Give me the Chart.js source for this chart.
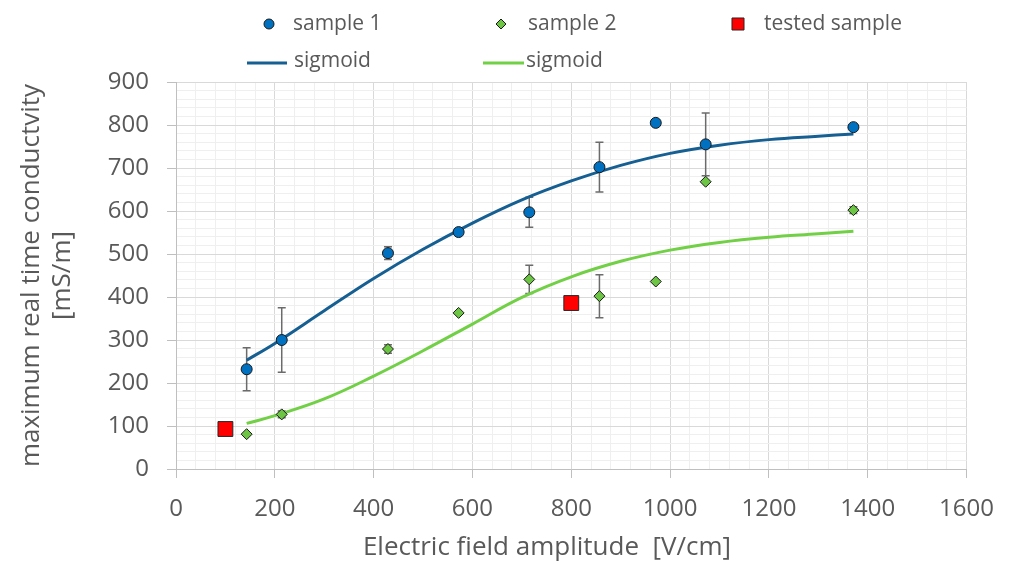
<!DOCTYPE html>
<html><head><meta charset="utf-8">
<script src="https://cdn.jsdelivr.net/npm/chart.js@4.4.0/dist/chart.umd.min.js"></script>
<style>html,body{margin:0;padding:0;background:#fff}</style>
</head><body>
<canvas id="c" width="1011" height="565"></canvas>
<script>
// ---- data ----
const sample1X   = [143, 214, 429, 572, 715, 857, 971, 1072, 1371];
const sample1Y   = [232, 300, 502, 551, 597, 702, 805, 755, 795];
const sample1Err = [50, 75, 15, 4, 35, 58, 0, 73, 5];

const sample2X   = [143, 214, 429, 572, 715, 857, 971, 1072, 1371];
const sample2Y   = [81, 127, 279, 363, 441, 402, 436, 668, 602];
const sample2Err = [0, 8, 10, 0, 33, 50, 0, 0, 8];

const testedX = [100, 800];
const testedY = [93, 386];

const sigmoid1X = [143, 200, 300, 400, 500, 600, 700, 800, 900, 1000, 1100, 1200, 1300, 1371];
const sigmoid1Y = [253, 292, 368, 443, 511, 572, 626, 670, 706, 734, 753, 766, 774, 779];
const sigmoid2X = [143, 200, 300, 400, 500, 600, 700, 800, 900, 1000, 1100, 1200, 1300, 1371];
const sigmoid2Y = [106, 124, 163, 216, 275, 337, 399, 447, 483, 509, 527, 539, 547, 553];

const xTickLabels = [0, 200, 400, 600, 800, 1000, 1200, 1400, 1600];
const yTickLabels = [0, 100, 200, 300, 400, 500, 600, 700, 800, 900];

const seriesNames = ['sample 1', 'sample 2', 'tested sample', 'sigmoid', 'sigmoid'];
const xTitle = 'Electric field amplitude  [V/cm]';
const yTitle = ['maximum real time conductvity', '[mS/m]'];

// ---- helpers ----
const pts = (xs, ys) => xs.map((x, i) => ({x, y: ys[i]}));
const FONT = "'Open Sans', 'Noto Sans', sans-serif";
const TXT = '#595959';
const MAJOR = '#d9d9d9', MINOR = '#efefef';

const errorBars = {
  id: 'errorBars',
  beforeDatasetsDraw(chart) {
    const {ctx, scales: {x, y}} = chart;
    ctx.save();
    ctx.strokeStyle = '#6b6b6b';
    ctx.lineWidth = 1.5;
    chart.data.datasets.forEach(ds => {
      if (!ds.errors) return;
      ds.data.forEach((p, i) => {
        const e = ds.errors[i];
        if (!e) return;
        const px = x.getPixelForValue(p.x);
        const t = y.getPixelForValue(p.y + e), b = y.getPixelForValue(p.y - e);
        ctx.beginPath();
        ctx.moveTo(px, t); ctx.lineTo(px, b);
        ctx.moveTo(px - 4, t); ctx.lineTo(px + 4, t);
        ctx.moveTo(px - 4, b); ctx.lineTo(px + 4, b);
        ctx.stroke();
      });
    });
    ctx.restore();
  }
};

const legendPos = [
  {mx: 269, my: 24, tx: 293, r: 5},
  {mx: 501, my: 24, tx: 528, r: 5},
  {mx: 738, my: 24, tx: 764, r: 8.5},
  {lx0: 247, lx1: 287, my: 63, tx: 294},
  {lx0: 483, lx1: 524, my: 63, tx: 526}
];
const customLegend = {
  id: 'customLegend',
  afterDraw(chart) {
    const ctx = chart.ctx;
    ctx.save();
    ctx.font = '21px ' + FONT;
    ctx.textBaseline = 'middle';
    chart.data.datasets.forEach((ds, i) => {
      const p = legendPos[i];
      if (p.lx0 !== undefined) {
        ctx.strokeStyle = ds.borderColor;
        ctx.lineWidth = ds.borderWidth;
        ctx.beginPath(); ctx.moveTo(p.lx0, p.my); ctx.lineTo(p.lx1, p.my); ctx.stroke();
        ctx.fillStyle = TXT;
        ctx.fillText(ds.label, p.tx, p.my - 2);
      } else {
        ctx.fillStyle = ds.backgroundColor;
        ctx.strokeStyle = ds.borderColor;
        ctx.lineWidth = ds.borderWidth;
        Chart.helpers.drawPoint(ctx, {pointStyle: ds.pointStyle, radius: p.r, rotation: 0, borderWidth: ds.borderWidth}, p.mx, p.my);
        ctx.fillStyle = TXT;
        ctx.fillText(ds.label, p.tx, p.my);
      }
    });
    // x axis title (offset left of the plot centre as in the reference)
    ctx.font = '26px ' + FONT;
    ctx.textAlign = 'center';
    ctx.fillStyle = TXT;
    ctx.fillText(xTitle, 547, 548);
    ctx.restore();
  }
};

const isMajor = (v, step) => Math.abs(Math.round(v) % step) === 0;

new Chart(document.getElementById('c'), {
  type: 'scatter',
  data: {
    datasets: [
      {label: seriesNames[0], data: pts(sample1X, sample1Y), errors: sample1Err, pointStyle: 'circle', pointRadius: 5.5,
       backgroundColor: '#0070c0', borderColor: '#1a1a1a', borderWidth: 1, order: 1},
      {label: seriesNames[1], data: pts(sample2X, sample2Y), errors: sample2Err, pointStyle: 'rectRot', pointRadius: 5.5,
       backgroundColor: '#6cc644', borderColor: '#1a1a1a', borderWidth: 1, order: 1},
      {label: seriesNames[2], data: pts(testedX, testedY), pointStyle: 'rect', pointRadius: 10.5,
       backgroundColor: '#ff0000', borderColor: '#262626', borderWidth: 1, order: 1},
      {label: seriesNames[3], type: 'line', data: pts(sigmoid1X, sigmoid1Y), borderColor: '#155f92', borderWidth: 3,
       pointRadius: 0, tension: 0.4, fill: false, order: 2},
      {label: seriesNames[4], type: 'line', data: pts(sigmoid2X, sigmoid2Y), borderColor: '#72d046', borderWidth: 3,
       pointRadius: 0, tension: 0.4, fill: false, order: 2}
    ]
  },
  options: {
    responsive: false,
    animation: false,
    layout: {padding: {left: 0, right: 38, top: 82, bottom: 0}},
    plugins: {legend: {display: false}, tooltip: {enabled: false}},
    scales: {
      x: {
        type: 'linear', min: xTickLabels[0], max: xTickLabels[xTickLabels.length - 1],
        ticks: {stepSize: 40, autoSkip: false, maxRotation: 0, minRotation: 0, color: TXT,
                font: {family: FONT, size: 24}, padding: 17,
                callback: v => xTickLabels.includes(Math.round(v)) ? String(Math.round(v)) : ''},
        grid: {color: c => isMajor(c.tick ? c.tick.value : 0, 200) ? MAJOR : MINOR, lineWidth: 1, tickLength: 9,
               tickColor: c => isMajor(c.tick ? c.tick.value : 0, 200) ? '#bfbfbf' : 'rgba(0,0,0,0)'},
        border: {color: '#bfbfbf', width: 1},
        title: {display: false},
        afterFit: s => { s.height = 96; }
      },
      y: {
        type: 'linear', min: yTickLabels[0], max: yTickLabels[yTickLabels.length - 1],
        ticks: {stepSize: 20, autoSkip: false, color: TXT, font: {family: FONT, size: 24}, padding: 18,
                callback: v => yTickLabels.includes(Math.round(v)) ? String(Math.round(v)) : ''},
        grid: {color: c => isMajor(c.tick ? c.tick.value : 0, 100) ? MAJOR : MINOR, lineWidth: 1, tickLength: 9,
               tickColor: c => isMajor(c.tick ? c.tick.value : 0, 100) ? '#bfbfbf' : 'rgba(0,0,0,0)'},
        border: {color: '#bfbfbf', width: 1},
        title: {display: true, text: yTitle, color: TXT, font: {family: FONT, size: 26, lineHeight: 1.19}, padding: {top: 16, bottom: 0}},
        afterFit: s => { s.width = 176; }
      }
    }
  },
  plugins: [errorBars, customLegend]
});
</script>
</body></html>
